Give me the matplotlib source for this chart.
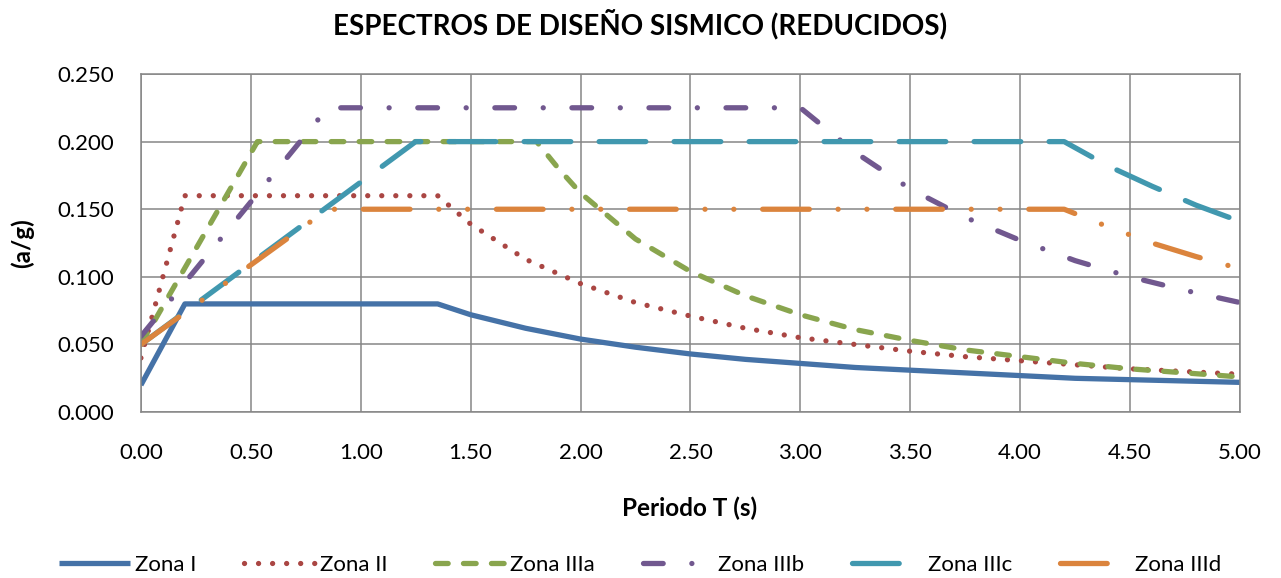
import numpy as np
from matplotlib import pyplot as plt
from matplotlib.ticker import FormatStrFormatter, MultipleLocator

plt.rcParams['font.family'] = ['Lato', 'DejaVu Sans']

# ======================= DATA =======================
t_z1 = [0.00, 0.20, 1.35, 1.50, 1.75, 2.00, 2.25, 2.50, 2.75, 3.00, 3.25, 3.50,
        3.75, 4.00, 4.25, 4.50, 4.75, 5.00]
a_z1 = [0.020, 0.080, 0.080, 0.072, 0.062, 0.054, 0.048, 0.043, 0.039, 0.036, 0.033,
        0.031, 0.029, 0.027, 0.025, 0.024, 0.023, 0.022]

t_z2 = [0.00, 0.20, 1.35, 1.50, 1.75, 2.00, 2.25, 2.50, 2.75, 3.00, 3.25, 3.50,
        3.75, 4.00, 4.25, 4.50, 4.75, 5.00]
a_z2 = [0.040, 0.160, 0.160, 0.139, 0.113, 0.095, 0.081, 0.071, 0.062, 0.055, 0.050,
        0.045, 0.041, 0.038, 0.035, 0.032, 0.030, 0.028]

t_z3a = [0.00, 0.53, 1.80, 1.90, 2.00, 2.25, 2.50, 2.75, 3.00, 3.25, 3.50, 3.75,
         4.00, 4.25, 4.50, 4.75, 5.00]
a_z3a = [0.050, 0.200, 0.200, 0.180, 0.162, 0.128, 0.104, 0.086, 0.072, 0.061, 0.053,
         0.046, 0.041, 0.036, 0.032, 0.029, 0.026]

t_z3b = [0.00, 0.85, 3.00, 3.25, 3.50, 3.75, 4.00, 4.25, 4.50, 4.75, 5.00]
a_z3b = [0.056, 0.225, 0.225, 0.192, 0.165, 0.144, 0.127, 0.112, 0.100, 0.090, 0.081]

t_z3c = [0.00, 1.25, 4.20, 4.40, 4.60, 4.80, 5.00]
a_z3c = [0.050, 0.200, 0.200, 0.182, 0.167, 0.153, 0.141]

t_z3d = [0.00, 0.85, 4.20, 4.40, 4.60, 4.80, 5.00]
a_z3d = [0.050, 0.150, 0.150, 0.137, 0.125, 0.115, 0.106]

nombres = ["Zona I", "Zona II", "Zona IIIa", "Zona IIIb", "Zona IIIc", "Zona IIId"]

# ======================= STYLE =======================
colores = ["#4572A7", "#AA4643", "#89A54E", "#71588F", "#4198AF", "#DB843D"]
estilos = ["-",
           (0, (0.01, 2.65)),
           (0, (2.4, 2.9)),
           (0, (3.73, 5.43, 0.01, 5.43)),
           (0, (8.85, 5.36)),
           (0, (8.85, 5.45, 0.01, 5.45, 0.01, 5.45))]
gris = "#868686"

fig = plt.figure(figsize=(12.81, 5.78), dpi=100)
ax = fig.add_axes([0.110, 0.287, 0.858, 0.585])

series = [(t_z1, a_z1), (t_z2, a_z2), (t_z3a, a_z3a),
          (t_z3b, a_z3b), (t_z3c, a_z3c), (t_z3d, a_z3d)]
for (t, a), nom, c, ls in zip(series, nombres, colores, estilos):
    ax.plot(t, a, color=c, linestyle=ls, linewidth=3.8, label=nom,
            dash_capstyle='round', solid_capstyle='butt', solid_joinstyle='round')

ax.set_xlim(0, 5)
ax.set_ylim(0, 0.25)
ax.xaxis.set_major_locator(MultipleLocator(0.5))
ax.yaxis.set_major_locator(MultipleLocator(0.05))
ax.xaxis.set_major_formatter(FormatStrFormatter('%.2f'))
ax.yaxis.set_major_formatter(FormatStrFormatter('%.3f'))
ax.tick_params(axis='both', length=0, labelsize=16, colors='black')
ax.tick_params(axis='x', pad=22)
ax.tick_params(axis='y', pad=19)
ax.grid(True, color=gris, linewidth=1.1)
ax.set_axisbelow(True)
for s in ax.spines.values():
    s.set_color(gris)
    s.set_linewidth(1.1)

fig.text(0.5, 1 - 24 / 578, "ESPECTROS DE DISEÑO SISMICO (REDUCIDOS)",
         ha='center', va='center', fontsize=20, fontweight='bold')
fig.text(0.5385, 1 - 508 / 578, "Periodo T (s)", ha='center', va='center',
         fontsize=17.5, fontweight='bold')
fig.text(22 / 1281, 1 - 243 / 578, "(a/g)", ha='center', va='center',
         fontsize=17.5, fontweight='bold', rotation=90)

fig.legend(loc='center', bbox_to_anchor=(0.5, 1 - 565 / 578), ncol=6,
           frameon=False, fontsize=16, handlelength=3.2, handletextpad=0.2,
           columnspacing=2.15, borderaxespad=0)

fig.savefig("out.png", dpi=100)
